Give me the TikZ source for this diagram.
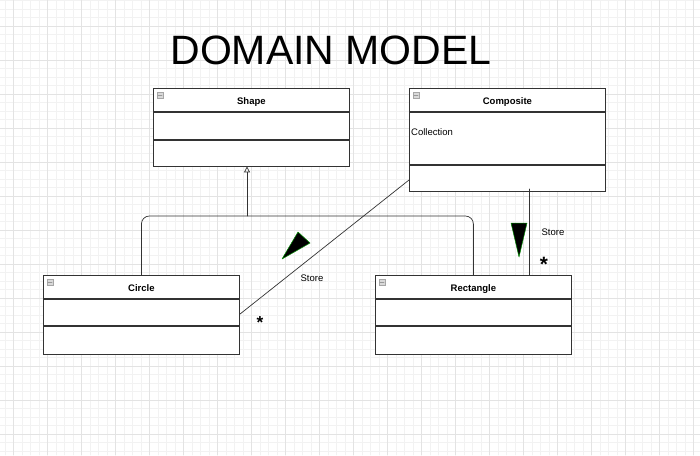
\documentclass[tikz,border=0pt]{standalone}
\usepackage{fontspec}
\setmainfont{Liberation Sans}
\usetikzlibrary{positioning,arrows.meta}

\newcommand{\umlicon}[1]{%
  \draw[gray!70,fill=gray!30,line width=0.4pt] ([shift={(4pt,-4pt)}]#1.north west) rectangle ++(6,6);
  \draw[gray!80,line width=0.6pt] ([shift={(5pt,-7pt)}]#1.north west) -- ++(4,0);
}

\begin{document}
\begin{tikzpicture}
		[x=1pt,y=-1pt,line cap=round,
		%Styles
		classhead/.style={draw=black!80,fill=white,line width=0.8pt,minimum width=196pt,minimum height=23pt,inner sep=0pt,text height=9.8pt,text depth=0pt,font=\fontsize{9.5}{11}\selectfont\bfseries},
		compart/.style={draw=black!80,fill=white,line width=0.8pt,minimum width=196pt,inner sep=0pt},
		link/.style={draw=black!80,line width=0.7pt},
		marker/.style={fill=black,draw=green!55!black,line width=0.5pt,line join=round},
		label text/.style={font=\fontsize{9.5}{11}\selectfont,inner sep=0pt}
		]
		
		%Colors
		\colorlet{minorgrid}{black!5}
		\colorlet{majorgrid}{black!11}
		
		%Background grid
		\useasboundingbox (0,0) rectangle (700,455);
		\fill[white] (0,0) rectangle (700,455);
		\foreach \x in {5,13.5,...,700} \draw[minorgrid,line width=0.5pt] (\x,0) -- (\x,455);
		\foreach \y in {0.5,9,...,455} \draw[minorgrid,line width=0.5pt] (0,\y) -- (700,\y);
		\foreach \x in {13.5,47.5,...,700} \draw[majorgrid,line width=0.6pt] (\x,0) -- (\x,455);
		\foreach \y in {26,60,...,455} \draw[majorgrid,line width=0.6pt] (0,\y) -- (700,\y);
		
		%Title
		\node[font=\fontsize{41}{48}\selectfont,inner sep=0pt] (title) at (331,50) {DOMAIN MODEL};
		
		%Classes
		\node[classhead,anchor=north west] (shapeHead) at (153,88) {Shape};
		\node[compart,minimum height=27pt,below=0pt of shapeHead] (shapeAttr) {};
		\node[compart,minimum height=26pt,below=0pt of shapeAttr] (shapeOps) {};
		
		\node[classhead,anchor=north west] (compHead) at (409,88) {Composite};
		\node[compart,minimum height=52pt,below=0pt of compHead] (compAttr) {};
		\node[compart,minimum height=26pt,below=0pt of compAttr] (compOps) {};
		\node[label text,anchor=west] (compField) at ([shift={(2pt,-20pt)}]compAttr.north west) {Collection};
		
		\node[classhead,anchor=north west] (circHead) at (43,275) {Circle};
		\node[compart,minimum height=26pt,below=0pt of circHead] (circAttr) {};
		\node[compart,minimum height=28pt,below=0pt of circAttr] (circOps) {};
		
		\node[classhead,anchor=north west] (rectHead) at (375,275) {Rectangle};
		\node[compart,minimum height=26pt,below=0pt of rectHead] (rectAttr) {};
		\node[compart,minimum height=28pt,below=0pt of rectAttr] (rectOps) {};
		
		\umlicon{shapeHead}
		\umlicon{compHead}
		\umlicon{circHead}
		\umlicon{rectHead}
		
		%Inheritance
		\coordinate (join) at (247,216);
		\draw[link,rounded corners=8pt] (circHead.north) |- (join) -| (rectHead.north);
		\draw[link,-{Triangle[open,length=6pt,width=6pt]}] (join) -- (join |- shapeOps.south);
		
		%Store: Composite -- Circle
		\draw[link] ([yshift=-2pt]compOps.west) -- ([yshift=-2pt]circAttr.east);
		\draw[marker] (298,232) -- (310,243) -- (282,259) -- cycle;
		\node[label text] (storeA) at (312,278) {Store};
		\node[font=\LARGE\bfseries,inner sep=0pt] (multA) at (260,323) {*};
		
		%Store: Composite -- Rectangle
		\coordinate (compDown) at (529,189);
		\draw[link] (compDown) -- (compDown |- rectHead.north);
		\draw[marker] (511,223) -- (527,223) -- (519,257) -- cycle;
		\node[label text] (storeB) at (553,232) {Store};
		\node[font=\huge\bfseries,inner sep=0pt] (multB) at (544,264) {*};
	\end{tikzpicture}
\end{document}
